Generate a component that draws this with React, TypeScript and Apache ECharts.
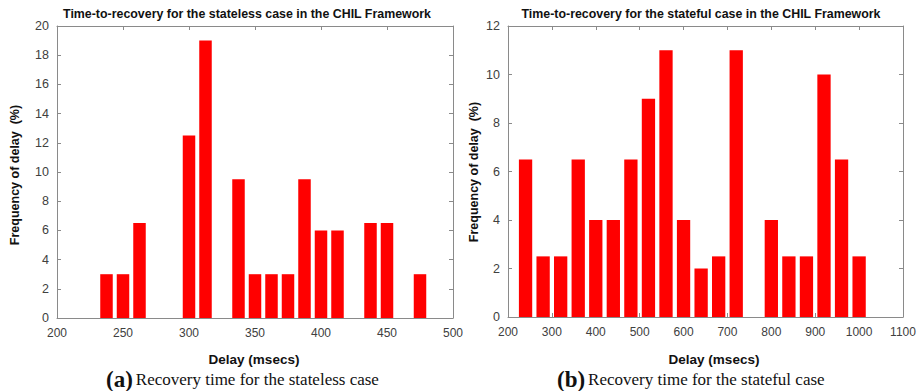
import React, { useEffect, useRef } from "react";
import * as echarts from "echarts";

const statelessDelays = [237.5, 250, 262.5, 275, 287.5, 300, 312.5, 325, 337.5, 350, 362.5, 375, 387.5, 400, 412.5, 425, 437.5, 450, 462.5, 475];
const statelessFreq = [3, 3, 6.5, 0, 0, 12.5, 19, 0, 9.5, 3, 3, 3, 9.5, 6, 6, 0, 6.5, 6.5, 0, 3];

const statefulDelays = [240, 280, 320, 360, 400, 440, 480, 520, 560, 600, 640, 680, 720, 760, 800, 840, 880, 920, 960, 1000];
const statefulFreq = [6.5, 2.5, 2.5, 6.5, 4, 4, 6.5, 9, 11, 4, 2, 2.5, 11, 0, 4, 2.5, 2.5, 10, 6.5, 2.5];

const titles = [
  "Time-to-recovery for the stateless case in the CHIL Framework",
  "Time-to-recovery for the stateful case in the CHIL Framework",
];
const yName = "Frequency of delay  (%)";
const xName = "Delay (msecs)";
const captionTags = ["(a)", "(b)"];
const captions = ["Recovery time for the stateless case", "Recovery time for the stateful case"];

const FONT = "Liberation Sans, Arial, sans-serif";
const SERIF = "Liberation Serif, Times New Roman, serif";
const LINE = "#8a8a8a";
const LABEL = "#404040";

export default function App() {
  const ref = useRef<HTMLDivElement>(null);
  useEffect(() => {
    if (!ref.current) return;
    const chart = echarts.init(ref.current, undefined, { renderer: "svg" });

    const grids = [
      { left: 57, top: 26, width: 396, height: 292 },
      { left: 508, top: 26, width: 395, height: 291 },
    ];
    const xRanges = [
      { min: 200, max: 500, interval: 50 },
      { min: 200, max: 1100, interval: 100 },
    ];
    const yRanges = [
      { min: 0, max: 20, interval: 2 },
      { min: 0, max: 12, interval: 2 },
    ];
    const fmt = (v: number) => String(v);

    const xAxis: any[] = [];
    const yAxis: any[] = [];
    [0, 1].forEach((g) => {
      xAxis.push({
        type: "value",
        gridIndex: g,
        position: "bottom",
        ...xRanges[g],
        axisLine: { show: true, lineStyle: { color: LINE, width: 1 } },
        axisTick: { show: true, inside: true, length: 4, lineStyle: { color: LINE } },
        axisLabel: { color: LABEL, fontSize: 12, fontFamily: FONT, margin: 9, formatter: fmt },
        splitLine: { show: false },
      });
      xAxis.push({
        type: "value",
        gridIndex: g,
        position: "top",
        ...xRanges[g],
        axisLine: { show: true, onZero: false, lineStyle: { color: LINE, width: 1 } },
        axisTick: { show: true, inside: true, length: 4, lineStyle: { color: LINE } },
        axisLabel: { show: false },
        splitLine: { show: false },
      });
      yAxis.push({
        type: "value",
        gridIndex: g,
        position: "left",
        ...yRanges[g],
        axisLine: { show: true, lineStyle: { color: LINE, width: 1 } },
        axisTick: { show: true, inside: true, length: 4, lineStyle: { color: LINE } },
        axisLabel: { color: LABEL, fontSize: 12.5, fontFamily: FONT, margin: 8, formatter: fmt },
        splitLine: { show: false },
      });
      yAxis.push({
        type: "value",
        gridIndex: g,
        position: "right",
        ...yRanges[g],
        axisLine: { show: true, onZero: false, lineStyle: { color: LINE, width: 1 } },
        axisTick: { show: true, inside: true, length: 4, lineStyle: { color: LINE } },
        axisLabel: { show: false },
        splitLine: { show: false },
      });
    });

    const series = [
      {
        type: "bar",
        xAxisIndex: 0,
        yAxisIndex: 0,
        barWidth: 12.5,
        itemStyle: { color: "#ff0000" },
        data: statelessDelays.map((d, i) => [d, statelessFreq[i]]),
      },
      {
        type: "bar",
        xAxisIndex: 2,
        yAxisIndex: 2,
        barWidth: 13.3,
        itemStyle: { color: "#ff0000" },
        data: statefulDelays.map((d, i) => [d, statefulFreq[i]]),
      },
    ];

    const titleX = [247, 701];
    const yNameX = [15, 474];
    const yNameY = [175, 172];
    const xNameX = [254, 714];
    const capX = [106, 557];

    const graphic: any[] = [];
    [0, 1].forEach((g) => {
      graphic.push({
        type: "text",
        x: titleX[g],
        y: 14,
        style: {
          text: titles[g],
          font: `bold 12.4px ${FONT}`,
          fill: "#111",
          textAlign: "center",
          textVerticalAlign: "middle",
        },
      });
      graphic.push({
        type: "text",
        x: yNameX[g],
        y: yNameY[g],
        rotation: Math.PI / 2,
        style: {
          text: yName,
          font: `bold 12.5px ${FONT}`,
          fill: "#111",
          textAlign: "center",
          textVerticalAlign: "middle",
        },
      });
      graphic.push({
        type: "text",
        x: xNameX[g],
        y: 359,
        style: {
          text: xName,
          font: `bold 13.5px ${FONT}`,
          fill: "#111",
          textAlign: "center",
          textVerticalAlign: "middle",
        },
      });
      graphic.push({
        type: "text",
        x: capX[g],
        y: 379,
        style: {
          text: `{t|${captionTags[g]}}{c|${captions[g]}}`,
          rich: {
            t: { font: `bold 23px ${SERIF}`, fill: "#111", padding: [0, 3, 0, 0] },
            c: { font: `17px ${SERIF}`, fill: "#111" },
          },
          textAlign: "left",
          textVerticalAlign: "middle",
        },
      });
    });

    chart.setOption({
      animation: false,
      backgroundColor: "#ffffff",
      grid: grids,
      xAxis,
      yAxis,
      series,
      graphic,
    });
    return () => chart.dispose();
  }, []);

  return (
    <div
      ref={ref}
      style={{ position: "absolute", left: 0, top: 0, width: 921, height: 391 }}
    />
  );
}
